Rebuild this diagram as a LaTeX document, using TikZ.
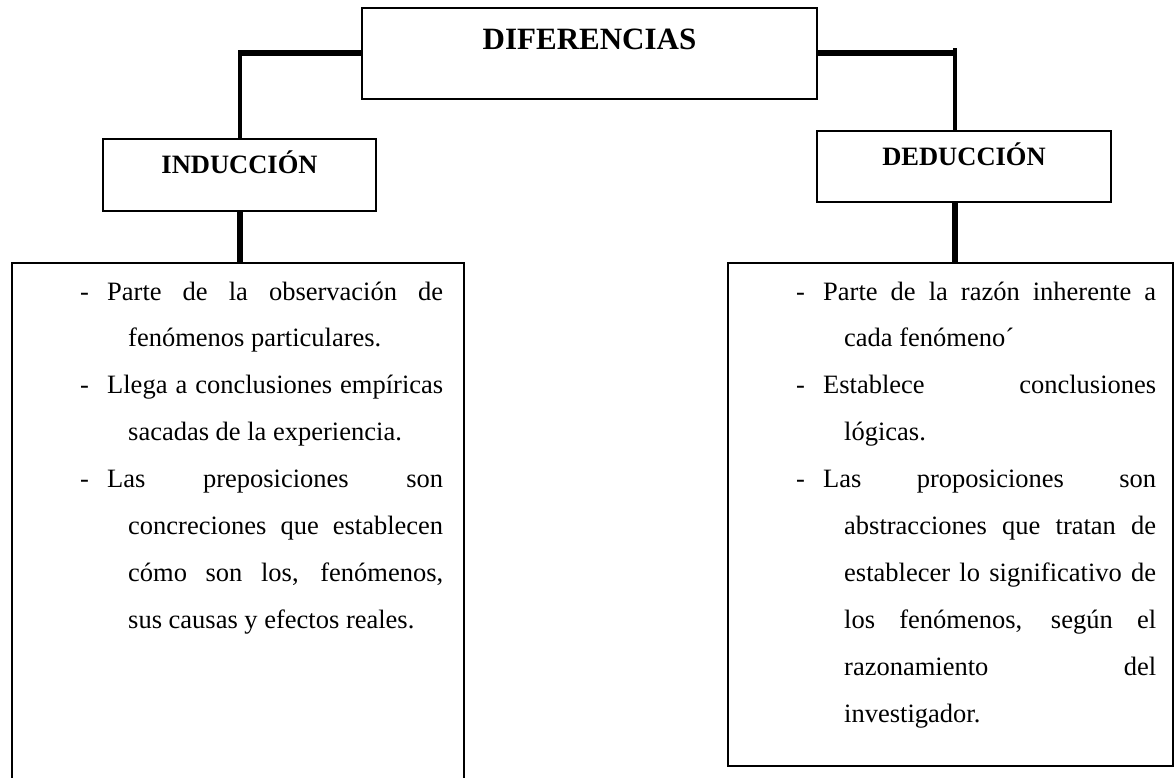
\documentclass[tikz,border=0pt]{standalone}
\usepackage{fontspec}
\setmainfont{Liberation Serif}
\usetikzlibrary{calc, positioning}

% guion colgante para cada punto de la lista
\newcommand{\guion}{\noindent\hangindent=21pt\hangafter=1\relax\llap{\makebox[27pt][l]{-}}}

\begin{document}
\begin{tikzpicture}[x=1pt, y=-1pt,
    titlebox/.style={draw, line width=2pt, inner sep=0pt,
                     font=\bfseries\fontsize{26.5}{30}\selectfont,
                     text height=19pt, text depth=21pt},
    bigbox/.style={draw, line width=1.8pt, anchor=north west, inner sep=0pt},
    itemtxt/.style={anchor=base west, inner sep=0pt, text width=336pt,
                    align=justify, font=\fontsize{26.5}{46.9}\selectfont},
    hline/.style={line width=6pt},
    vthin/.style={line width=4pt},
    vthick/.style={line width=6pt}
  ]

  \useasboundingbox (0,0) rectangle (1175,778);

  % cajas de titulo
  \node[titlebox, minimum width=455pt, minimum height=91pt,
        font=\bfseries\fontsize{31}{34}\selectfont,
        text height=22pt, text depth=29pt] (dif) at (589.5,53.5) {DIFERENCIAS};
  \node[titlebox, minimum width=273pt, minimum height=72pt] (ind) at (239.5,175) {INDUCCIÓN};
  \node[titlebox, minimum width=294pt, minimum height=71pt] (ded) at (964,166.5) {DEDUCCIÓN};

  % cajas grandes
  \node[bigbox, minimum width=452pt, minimum height=540pt] (indbox) at (11,262) {};
  \node[bigbox, minimum width=445pt, minimum height=503pt] (dedbox) at (727,262) {};

  % conectores
  \coordinate (lcorner) at (ind.north |- dif.west);
  \coordinate (rcorner) at (955,53.5);
  \draw[hline] (dif.west) -- ([xshift=-2pt]lcorner);
  \draw[vthin] (lcorner) -- (ind.north);
  \draw[hline] (dif.east) -- ([xshift=2pt]rcorner);
  \draw[vthin] ([yshift=5pt]rcorner) -- (rcorner |- ded.north);
  \draw[vthick] (ind.south) -- (ind.south |- indbox.north);
  \draw[vthick] (rcorner |- ded.south) -- (rcorner |- dedbox.north);

  % textos
  \node[itemtxt] (indtxt) at (107,300) {\guion Parte de la observación de\linebreak
    fenómenos particulares.\par
    \guion Llega a conclusiones empíricas\linebreak
    sacadas de la experiencia.\par
    \guion Las preposiciones son\linebreak
    concreciones que establecen\linebreak
    cómo son los, fenómenos,\linebreak
    sus causas y efectos reales.\par};
  \node[itemtxt, text width=333pt] (dedtxt) at (823,300) {\guion Parte de la razón inherente a\linebreak
    cada fenómeno´\par
    \guion Establece conclusiones\linebreak
    lógicas.\par
    \guion Las proposiciones son\linebreak
    abstracciones que tratan de\linebreak
    establecer lo significativo de\linebreak
    los fenómenos, según el\linebreak
    razonamiento del\linebreak
    investigador.\par};

\end{tikzpicture}
\end{document}
